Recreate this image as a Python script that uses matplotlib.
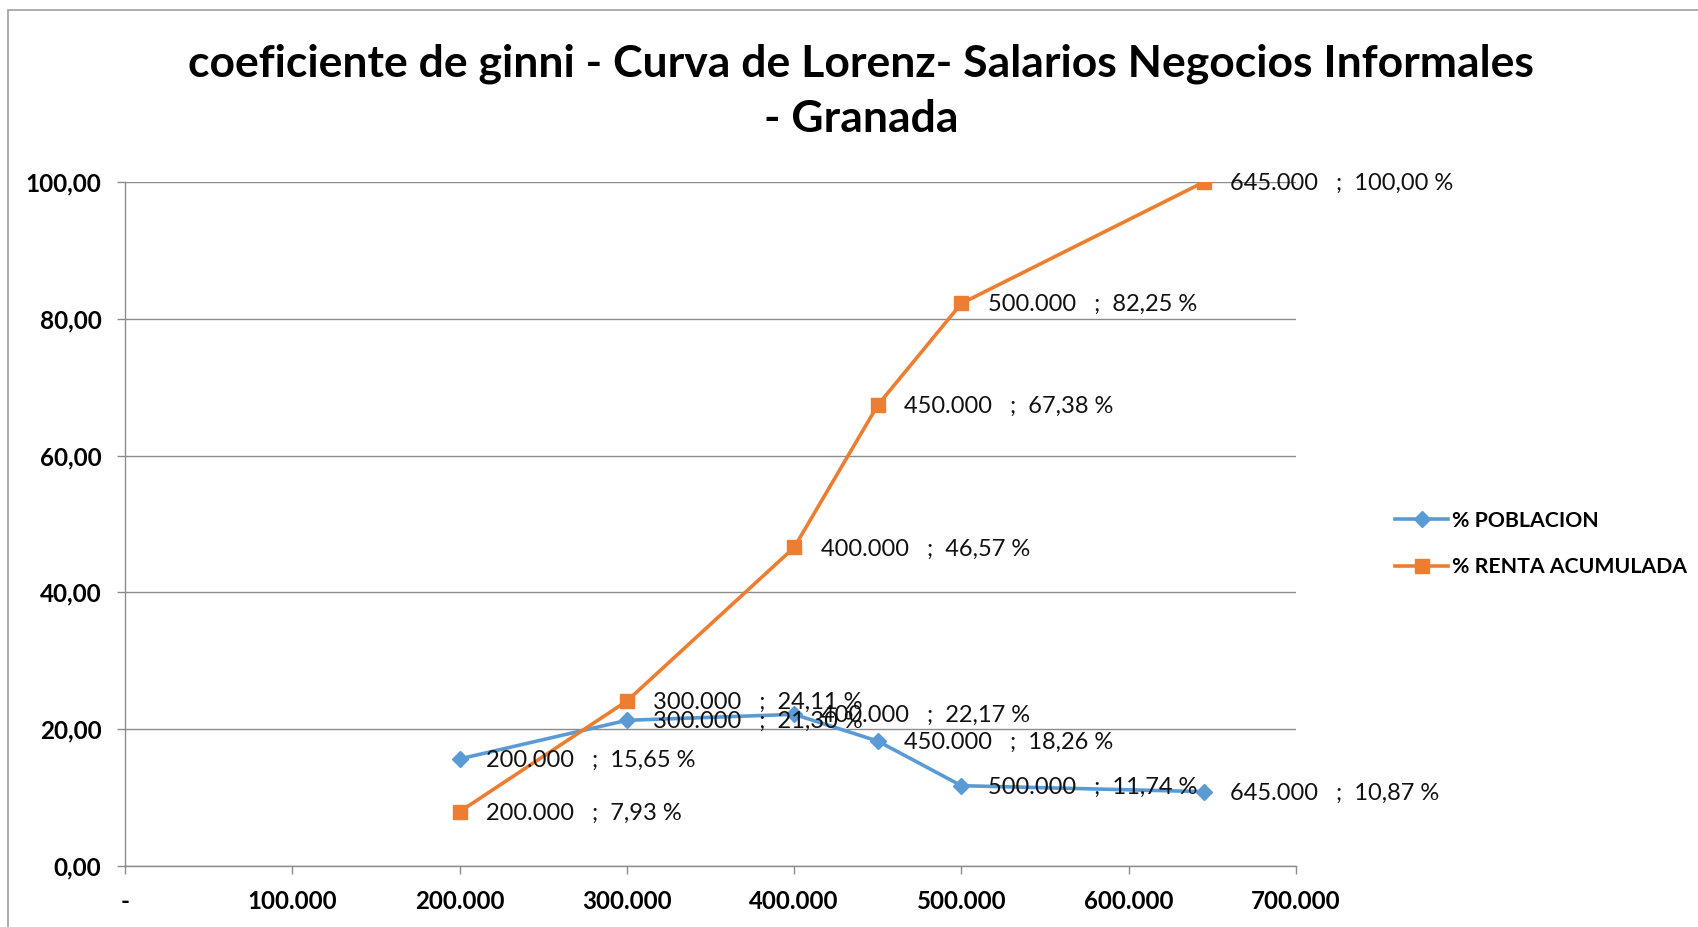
import matplotlib
matplotlib.use("Agg")
import matplotlib.pyplot as plt
from matplotlib.patches import Rectangle
from matplotlib.ticker import FixedLocator

plt.rcParams['font.family'] = ['Lato', 'DejaVu Sans']

# ---- data ----
salarios = [200000, 300000, 400000, 450000, 500000, 645000]
poblacion = [15.65, 21.30, 22.17, 18.26, 11.74, 10.87]
renta = [7.93, 24.11, 46.57, 67.38, 82.25, 100.00]
series_names = ["% POBLACION", "% RENTA ACUMULADA"]
title = "coeficiente de ginni - Curva de Lorenz- Salarios Negocios Informales\n- Granada"
x_ticks = [0, 100000, 200000, 300000, 400000, 500000, 600000, 700000]
y_ticks = [0, 20, 40, 60, 80, 100]

blue = "#5B9BD5"
orange = "#ED7D31"
grid_c = "#8C8C8C"

W, H = 1699, 927
fig = plt.figure(figsize=(W / 100, H / 100), dpi=100)

# chart border (top & left visible in the crop)
fig.patches.append(Rectangle((8 / W, -0.2), 1.2, 1 - 10 / H + 0.2,
                             transform=fig.transFigure, fill=False,
                             edgecolor="#A0A0A0", linewidth=1.2))

left, right, top, bottom = 125, 1296, 182, 866
ax = fig.add_axes([left / W, 1 - bottom / H, (right - left) / W, (bottom - top) / H])

ax.plot(salarios, poblacion, color=blue, lw=2.6, marker="D", ms=8,
        label=series_names[0], zorder=3)
ax.plot(salarios, renta, color=orange, lw=2.6, marker="s", ms=10,
        label=series_names[1], zorder=3)


def fmt_x(v):
    return f"{v:,.0f}".replace(",", ".")


def fmt_y(v):
    return f"{v:.2f}".replace(".", ",")


for xs, ys in ((salarios, poblacion), (salarios, renta)):
    for xv, yv in zip(xs, ys):
        ax.annotate(f"{fmt_x(xv)}   ;  {fmt_y(yv)} %", (xv, yv),
                    xytext=(19, -1), textcoords="offset points",
                    ha="left", va="center", fontsize=17, color="#111111",
                    zorder=4)

ax.set_xlim(0, 700000)
ax.set_ylim(0, 100)
ax.xaxis.set_major_locator(FixedLocator(x_ticks))
ax.yaxis.set_major_locator(FixedLocator(y_ticks))
ax.set_xticklabels(["-" if v == 0 else fmt_x(v) for v in x_ticks],
                   fontweight="bold", fontsize=17.3)
ax.set_yticklabels([fmt_y(v) for v in y_ticks], fontweight="bold", fontsize=17.5)
ax.tick_params(axis="both", direction="out", length=6, width=1, color=grid_c)
ax.tick_params(axis="x", pad=11)
ax.tick_params(axis="y", pad=11)

ax.grid(axis="y", color=grid_c, lw=1)
ax.set_axisbelow(True)
for s in ("top", "right"):
    ax.spines[s].set_visible(False)
for s in ("left", "bottom"):
    ax.spines[s].set_color(grid_c)
    ax.spines[s].set_linewidth(1)

fig.text(861 / W, 1 - 91 / H, title, ha="center", va="center",
         fontsize=32, fontweight="bold", linespacing=1.45)

ax.legend(loc="center left", bbox_to_anchor=(1376 / W, 1 - 544 / H),
          bbox_transform=fig.transFigure, frameon=False,
          prop={"weight": "bold", "size": 15.3}, handlelength=2.5,
          handletextpad=0.2, labelspacing=1.25)

fig.savefig("out.png", dpi=100)
